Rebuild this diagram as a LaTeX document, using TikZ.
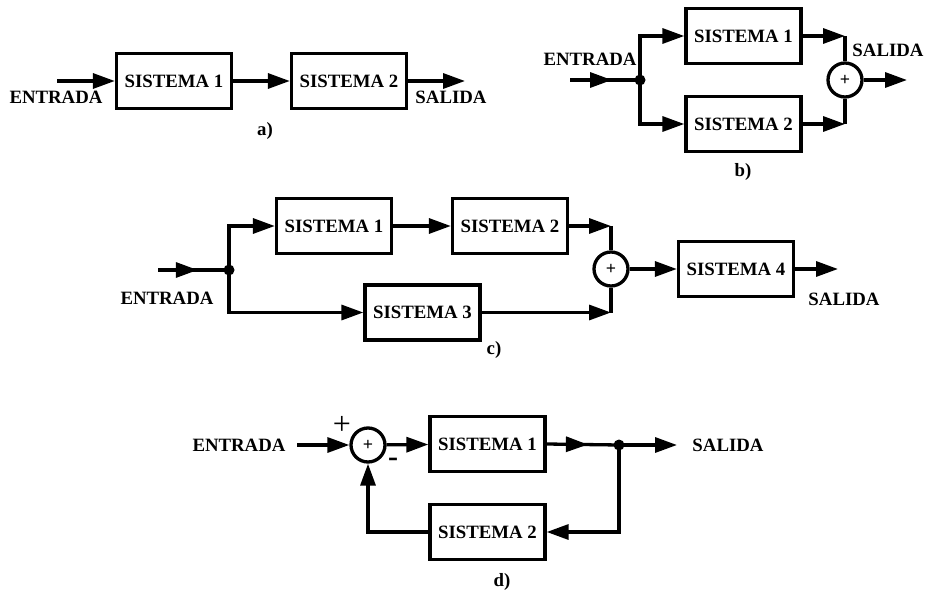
\documentclass[tikz,border=0pt]{standalone}
\usepackage{fontspec}
\setmainfont{Liberation Serif}
\usetikzlibrary{arrows.meta,decorations.markings}
\newcommand\labfont{\bfseries\fontsize{18.8}{20}\selectfont}
\tikzset{
  wire/.style={line width=3.3pt},
  arr/.style={wire, -{Triangle[length=22pt,width=15pt]}},
  block/.style={draw, line width=3.3pt, minimum width=115pt, minimum height=55pt,
    inner sep=0pt, font=\labfont},
  sum/.style={draw, circle, line width=3.3pt, minimum size=34pt, inner sep=0pt,
    font=\bfseries\fontsize{18}{18}\selectfont},
  junction/.style={circle, fill, minimum size=11pt, inner sep=0pt},
  lab/.style={font=\labfont, inner sep=0pt},
  midtip/.style={postaction={decorate}, decoration={markings,
    mark=at position #1 with {\arrow{Triangle[length=22pt,width=15pt]}}}}
}
\begin{document}
\begin{tikzpicture}[x=1pt,y=-1pt]
\useasboundingbox (0,0) rectangle (926,594);

% ---- a) two systems in cascade
\node[block] (a1) at (174,81) {SISTEMA 1};
\node[block] (a2) at (349,81) {SISTEMA 2};
\coordinate (ain) at (57,81);
\coordinate (aout) at (465,81);
\draw[arr] (ain) -- (a1.west);
\draw[arr] (a1) -- (a2);
\draw[arr] (a2.east) -- (aout);
\node[lab] (aent) at (56,97.5) {ENTRADA};
\node[lab] (asal) at (451,97.5) {SALIDA};
\node[lab] (acap) at (265,131) {a)};

% ---- b) two systems in parallel
\node[block] (b1) at (743.5,36) {SISTEMA 1};
\node[block] (b2) at (743.5,124) {SISTEMA 2};
\node[sum] (bs) at (845,80) {+};
\node[junction] (bj) at (640,80) {};
\coordinate (bin) at (570,80);
\coordinate (bout) at (907,80);
\draw[wire, midtip=0.6] (bin) -- (bj.center);
\draw[arr] (bj.center) |- (b1.west);
\draw[arr] (bj.center) |- (b2.west);
\draw[arr] (b1.east) -- (b1.east -| bs.center);
\draw[wire] (b1.east -| bs.center) -- (bs.north);
\draw[arr] (b2.east) -- (b2.east -| bs.center);
\draw[wire] (b2.east -| bs.center) -- (bs.south);
\draw[arr] (bs.east) -- (bout);
\node[lab] (bent) at (590,59) {ENTRADA};
\node[lab] (bsal) at (888,50) {SALIDA};
\node[lab] (bcap) at (743,172) {b)};

% ---- c) cascade and parallel combination
\node[block] (c1) at (334,226) {SISTEMA 1};
\node[block] (c2) at (510,226) {SISTEMA 2};
\node[block] (c3) at (422.5,312.5) {SISTEMA 3};
\node[block] (c4) at (736,269) {SISTEMA 4};
\node[sum] (cs) at (611,269) {+};
\node[junction] (cj) at (229,270) {};
\coordinate (cin) at (158,270);
\coordinate (cout) at (838,269);
\draw[wire, midtip=0.56] (cin) -- (cj.center);
\draw[arr] (cj.center) |- (c1.west);
\draw[arr] (cj.center) |- (c3.west);
\draw[arr] (c1) -- (c2);
\draw[arr] (c2.east) -- (c2.east -| cs.center);
\draw[wire] (c2.east -| cs.center) -- (cs.north);
\draw[arr] (c3.east) -- (c3.east -| cs.center);
\draw[wire] (c3.east -| cs.center) -- (cs.south);
\draw[arr] (cs) -- (c4);
\draw[arr] (c4.east) -- (cout);
\node[lab] (cent) at (167,298) {ENTRADA};
\node[lab] (csal) at (844,299) {SALIDA};
\node[lab] (ccap) at (494,350) {c)};

% ---- d) feedback loop
\node[block] (d1) at (487.5,444) {SISTEMA 1};
\node[block] (d2) at (487.5,532) {SISTEMA 2};
\node[sum] (ds) at (368,445) {+};
\node[junction] (dj) at (619,445) {};
\coordinate (din) at (297,445);
\coordinate (dout) at (677,445);
\draw[arr] (din) -- (ds.west);
\draw[arr] (ds) -- (d1);
\draw[wire, midtip=0.57] (d1.east) -- (dj.center);
\draw[arr] (dj.center) -- (dout);
\draw[arr] (dj.center) |- (d2.east);
\draw[arr] (d2.west) -| (ds.south);
\node[inner sep=0pt, font=\fontsize{32}{32}\selectfont] (dplus) at (342,425) {+};
\node[inner sep=0pt, font=\bfseries\fontsize{30}{30}\selectfont] (dminus) at (393,462) {-};
\node[lab] (dent) at (239,445) {ENTRADA};
\node[lab] (dsal) at (728,445) {SALIDA};
\node[lab] (dcap) at (502,582) {d)};
\end{tikzpicture}
\end{document}
